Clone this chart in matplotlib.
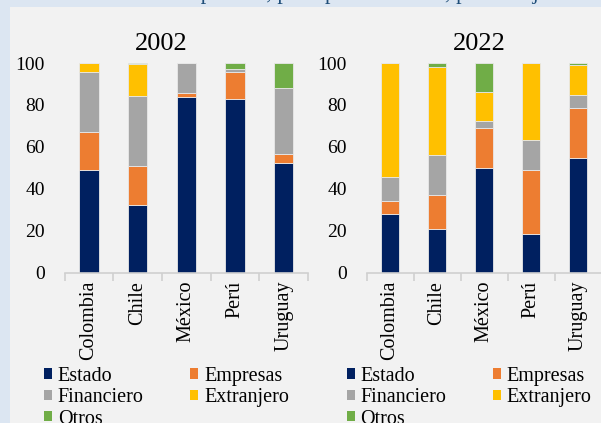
import matplotlib.pyplot as plt
import numpy as np
from matplotlib.patches import Rectangle, Patch

countries = ["Colombia", "Chile", "México", "Perú", "Uruguay"]
sectors = ["Estado", "Empresas", "Financiero", "Extranjero", "Otros"]
colors = ["#002060", "#ED7D31", "#A5A5A5", "#FFC000", "#70AD47"]

# shares by holder, in percent (one list per sector, ordered as countries)
estado_2002 = [48.7, 32.0, 83.8, 83.0, 52.5]
empresas_2002 = [18.3, 18.6, 1.9, 12.5, 4.3]
financiero_2002 = [28.7, 33.5, 14.3, 1.6, 31.4]
extranjero_2002 = [4.3, 15.6, 0.0, 0.0, 0.0]
otros_2002 = [0.0, 0.3, 0.0, 2.9, 11.8]

estado_2022 = [27.8, 20.7, 50.1, 18.5, 54.7]
empresas_2022 = [6.1, 16.5, 18.9, 30.3, 24.0]
financiero_2022 = [11.8, 19.1, 3.4, 14.3, 6.1]
extranjero_2022 = [54.3, 41.8, 13.8, 36.9, 14.2]
otros_2022 = [0.0, 1.9, 13.8, 0.0, 1.0]

plt.rcParams["font.family"] = ["Liberation Serif", "DejaVu Serif"]

W, H = 601, 423
fig = plt.figure(figsize=(W / 100, H / 100), dpi=100)
fig.patch.set_facecolor("#DCE6F2")
fig.patches.append(Rectangle((10 / W, 0), 1, 1 - 7 / H, transform=fig.transFigure,
                             facecolor="#F2F2F2", edgecolor="none", zorder=-5))
fig.text(30 / W, 1 + 1 / H, "Tenencia de deuda pública, por tipo de tenedor, porcentaje",
         color="#1F4E79", fontsize=16, va="baseline")


def draw_panel(ax, year, title_x, data):
    x = np.arange(len(countries))
    bottom = np.zeros(len(countries))
    for vals, col in zip(data, colors):
        ax.bar(x, vals, 0.4, bottom=bottom, color=col, edgecolor="#E8E8E8",
               linewidth=0.6)
        bottom += np.array(vals)
    ax.set_xlim(-0.5, len(countries) - 0.5)
    ax.set_ylim(0, 100)
    ax.set_facecolor("none")
    for s in ["top", "right", "left"]:
        ax.spines[s].set_visible(False)
    ax.spines["bottom"].set_color("#D0D0D0")
    ax.spines["bottom"].set_linewidth(1.2)
    ax.set_yticks([0, 20, 40, 60, 80, 100])
    ax.tick_params(axis="y", length=0, labelsize=14, pad=14)
    ax.set_xticks(x)
    ax.set_xticklabels(countries, rotation=90, fontsize=14.5)
    ax.tick_params(axis="x", which="major", length=0, pad=6)
    ax.set_xticks(np.arange(-0.5, len(countries)), minor=True)
    ax.tick_params(axis="x", which="minor", length=6, color="#D0D0D0", width=1.2)
    fig.text(title_x / W, 1 - 50 / H, year, fontsize=19, ha="center",
             va="baseline")
    # legend reads row by row: Estado, Empresas / Financiero, Extranjero / Otros
    order = [0, 2, 4, 1, 3]
    handles = [Patch(facecolor=colors[i], edgecolor="none") for i in order]
    ax.legend(handles, [sectors[i] for i in order], ncol=2, loc="upper left",
              frameon=False, fontsize=14.5, handlelength=0.4, handleheight=0.4,
              handletextpad=0.3, columnspacing=2.3, labelspacing=0.12,
              borderaxespad=0, borderpad=0, bbox_to_anchor=(-0.085, -0.45))


ax1 = fig.add_axes([64.5 / W, 1 - 272.5 / H, 243.5 / W, 209.5 / H])
draw_panel(ax1, "2002", 161, [estado_2002, empresas_2002, financiero_2002,
                              extranjero_2002, otros_2002])
ax2 = fig.add_axes([366.5 / W, 1 - 272.5 / H, 235 / W, 209.5 / H])
draw_panel(ax2, "2022", 479, [estado_2022, empresas_2022, financiero_2022,
                              extranjero_2022, otros_2022])

fig.savefig("out.png", dpi=100, facecolor=fig.get_facecolor())
